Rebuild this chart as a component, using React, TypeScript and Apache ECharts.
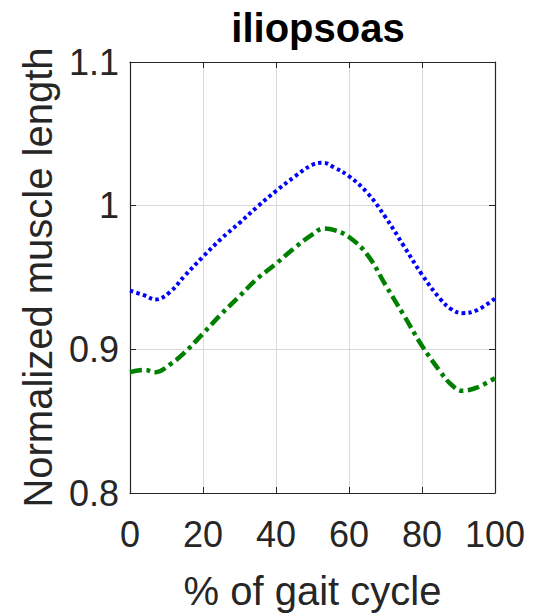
import React, { useEffect, useRef } from "react";
import * as echarts from "echarts";

const TITLE = "iliopsoas";
const X_LABEL = "% of gait cycle";
const Y_LABEL = "Normalized muscle length";

const gaitPct = [0, 4, 7, 11, 15, 20, 25, 30, 35, 40, 45, 50, 53, 56, 60, 65, 70, 75, 80, 85, 88, 91, 95, 100];
const blueLength = [0.9408, 0.9375, 0.9347, 0.94, 0.9512, 0.9645, 0.977, 0.988, 0.9995, 1.0102, 1.02, 1.0285, 1.0298, 1.0265, 1.0205, 1.009, 0.992, 0.972, 0.952, 0.935, 0.928, 0.9252, 0.9272, 0.9355];
const greenLength = [0.8841, 0.8857, 0.8841, 0.8895, 0.8979, 0.911, 0.9245, 0.937, 0.9495, 0.9596, 0.9705, 0.98, 0.9841, 0.983, 0.9782, 0.966, 0.9448, 0.9238, 0.9025, 0.8845, 0.8755, 0.8712, 0.8733, 0.88];

const FONT = "'Liberation Sans', Arial, Helvetica, sans-serif";
const AXIS_COLOR = "#262626";

export default function App() {
  const ref = useRef<HTMLDivElement>(null);
  useEffect(() => {
    if (!ref.current) return;
    const chart = echarts.init(ref.current, null, { renderer: "svg" });
    const pairs = (ys: number[]) => gaitPct.map((x, i) => [x, ys[i]]);
    const baseX = {
      type: "value" as const,
      min: 0,
      max: 100,
      interval: 20,
      axisLine: { show: true, onZero: false, lineStyle: { color: AXIS_COLOR, width: 1.2 } },
      axisTick: { show: true, inside: true, length: 6, lineStyle: { color: AXIS_COLOR } },
      splitLine: { show: false },
    };
    const baseY = {
      type: "value" as const,
      min: 0.8,
      max: 1.1,
      interval: 0.1,
      axisLine: { show: true, onZero: false, lineStyle: { color: AXIS_COLOR, width: 1.2 } },
      axisTick: { show: true, inside: true, length: 6, lineStyle: { color: AXIS_COLOR } },
      splitLine: { show: false },
    };
    chart.setOption({
      animation: false,
      backgroundColor: "#ffffff",
      title: {
        text: TITLE,
        left: 313,
        textAlign: "center",
        top: 3,
        textStyle: { fontFamily: FONT, fontSize: 40, fontWeight: "bold", color: "#000" },
      },
      grid: { left: 130, right: 39, top: 62, bottom: 119, containLabel: false },
      xAxis: [
        {
          ...baseX,
          position: "bottom",
          name: X_LABEL,
          nameLocation: "middle",
          nameGap: 78,
          nameTextStyle: { fontFamily: FONT, fontSize: 40, color: AXIS_COLOR },
          axisLabel: {
            show: true,
            margin: 23,
            fontFamily: FONT,
            fontSize: 36,
            color: AXIS_COLOR,
            formatter: (v: number) => String(v),
          },
          splitLine: { show: true, lineStyle: { color: "#d9d9d9", width: 1 } },
        },
        { ...baseX, position: "top", axisLabel: { show: false } },
      ],
      yAxis: [
        {
          ...baseY,
          position: "left",
          name: Y_LABEL,
          nameLocation: "middle",
          nameGap: 72,
          nameTextStyle: { fontFamily: FONT, fontSize: 40, color: AXIS_COLOR },
          axisLabel: {
            show: true,
            margin: 11,
            fontFamily: FONT,
            fontSize: 36,
            color: AXIS_COLOR,
            formatter: (v: number) => {
              const r = Math.round(v * 10) / 10;
              return r === 1 ? "1" : r.toFixed(1);
            },
          },
          splitLine: { show: true, lineStyle: { color: "#d9d9d9", width: 1 } },
        },
        { ...baseY, position: "right", axisLabel: { show: false } },
      ],
      series: [
        {
          type: "line",
          name: "blue",
          data: pairs(blueLength),
          smooth: 0.4,
          showSymbol: false,
          symbol: "none",
          lineStyle: { color: "#0000ff", width: 4, type: [3.5, 3.2], cap: "butt" },
        },
        {
          type: "line",
          name: "green",
          data: pairs(greenLength),
          smooth: 0.4,
          showSymbol: false,
          symbol: "none",
          lineStyle: { color: "#008000", width: 4.5, type: [12, 4.5, 4, 4.5], cap: "butt" },
        },
      ],
    });
    return () => chart.dispose();
  }, []);
  return (
    <div
      ref={ref}
      style={{ position: "fixed", left: 0, top: 0, width: 534, height: 616 }}
    />
  );
}
